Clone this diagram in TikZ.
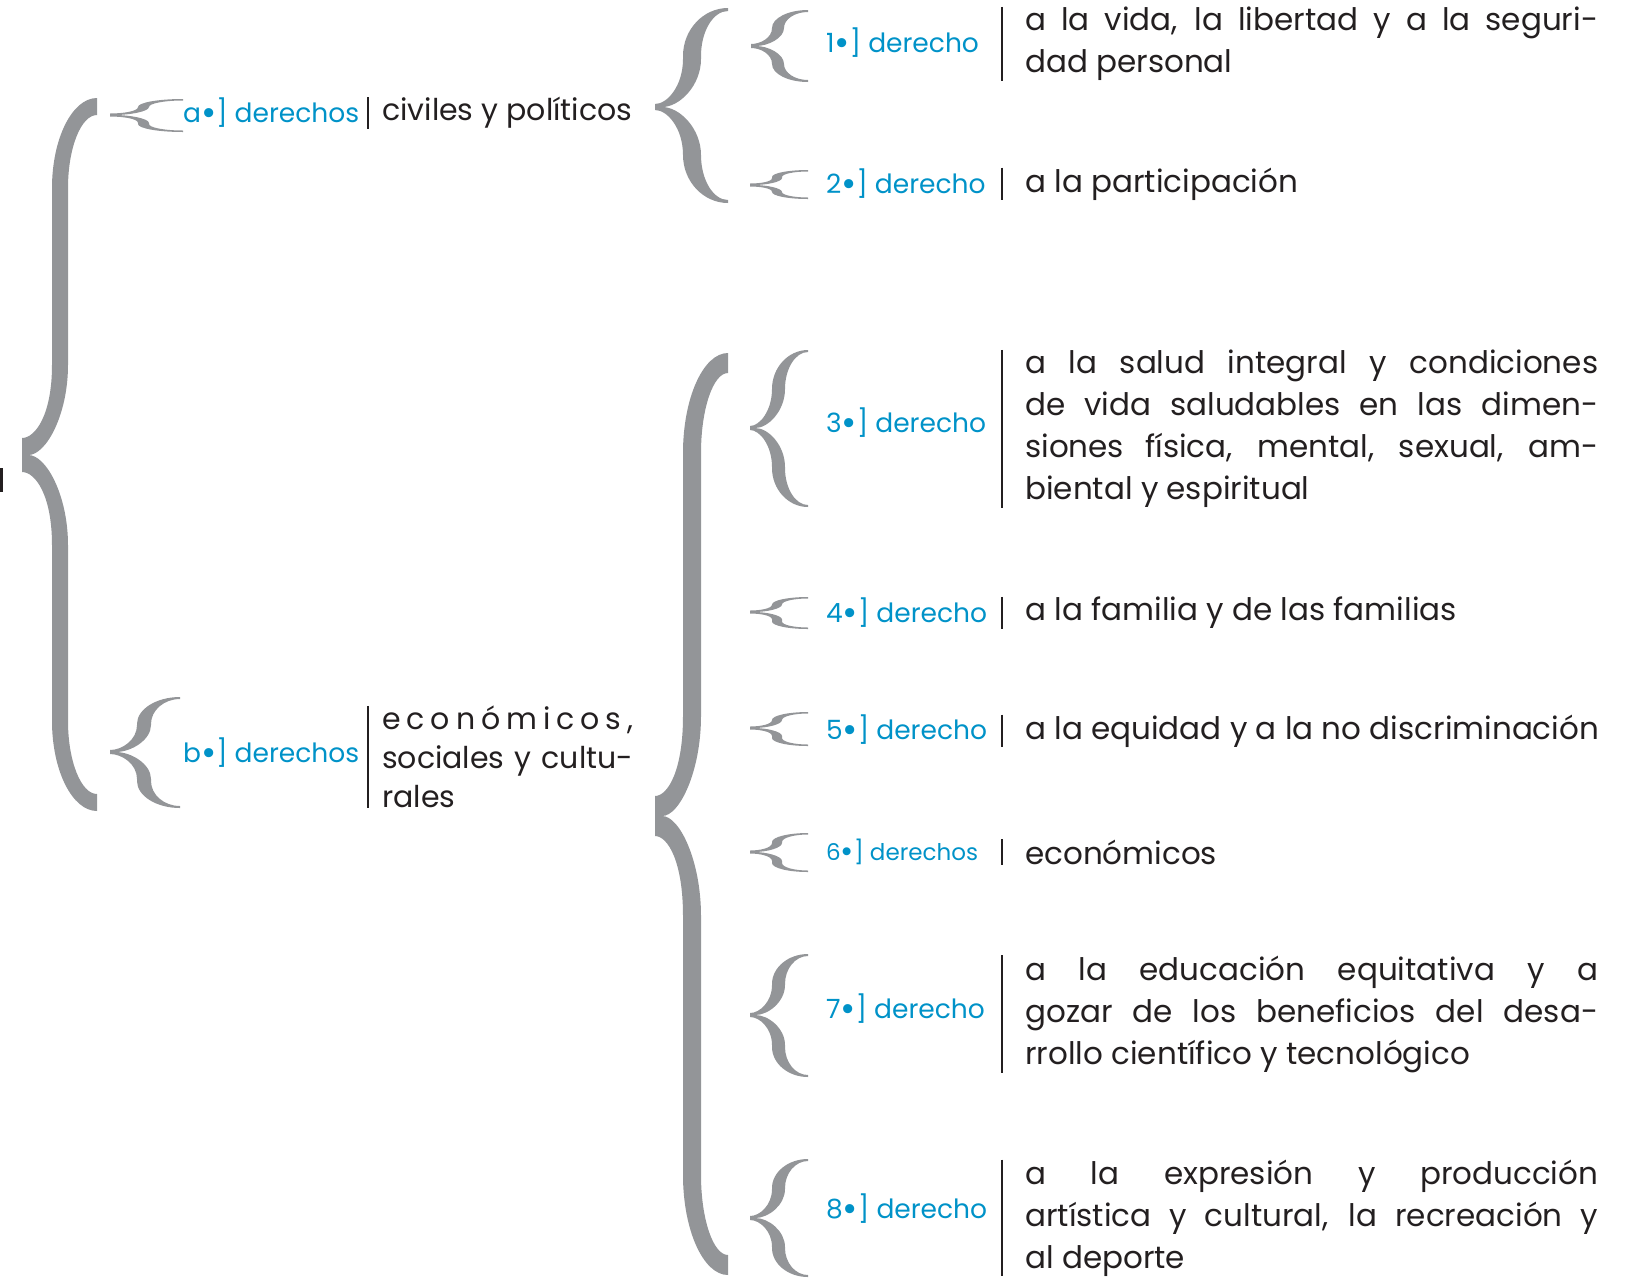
\documentclass[tikz,border=0pt]{standalone}
\usepackage{fontspec}
\setmainfont{Poppins}
\usepackage{xcolor}
\usepackage{tikz}

\definecolor{gris}{RGB}{147,149,152}
\definecolor{azul}{RGB}{0,146,200}
\definecolor{negro}{RGB}{35,31,32}

\newcommand{\pto}{\raisebox{-0.1em}{\scalebox{1.4}{\textbullet}}}

% llave: xr, x del tallo, x de la punta, y arriba, y punta, y abajo, grosor, radio, grosor del extremo
\newcommand{\llave}[9]{%
  \fill[gris] (#1,#4)
    .. controls ({#2+0.45*(#1-#2)},#4) and (#2,{#4+0.45*#8}) .. (#2,{#4+#8})
    -- (#2,{#5-#8})
    .. controls (#2,{#5-0.45*#8}) and ({#3+0.45*(#2-#3)},{#5-#9}) .. (#3,{#5-#9})
    -- (#3,{#5+#9})
    .. controls ({#3+0.45*(#2-#3)},{#5+#9}) and (#2,{#5+0.45*#8}) .. (#2,{#5+#8})
    -- (#2,{#6-#8})
    .. controls (#2,{#6-0.45*#8}) and ({#2+0.45*(#1-#2)},#6) .. (#1,#6)
    -- (#1,{#6-#9})
    .. controls ({#2+#7+0.45*(#1-#2-#7)},{#6-#9}) and ({#2+#7},{#6-#9-0.45*(#8-#9)}) .. ({#2+#7},{#6-#8})
    -- ({#2+#7},{#5+#8})
    .. controls ({#2+#7},{#5+0.45*#8}) and ({#3+0.4*#7+0.45*(#2+0.6*#7-#3)},#5) .. ({#3+0.4*#7},#5)
    .. controls ({#3+0.4*#7+0.45*(#2+0.6*#7-#3)},#5) and ({#2+#7},{#5-0.45*#8}) .. ({#2+#7},{#5-#8})
    -- ({#2+#7},{#4+#8})
    .. controls ({#2+#7},{#4+#9+0.45*(#8-#9)}) and ({#2+#7+0.45*(#1-#2-#7)},{#4+#9}) .. (#1,{#4+#9})
    -- cycle;}

\begin{document}
\begin{tikzpicture}[x=1pt,y=-1pt]
  \tikzstyle{etiqueta}=[anchor=west, inner sep=0pt, text=azul, font=\fontsize{26.5}{30}\selectfont]
  \tikzstyle{texto}=[anchor=west, inner xsep=23pt, inner ysep=0pt, text=negro, font=\fontsize{31}{42}\selectfont]
  \tikzstyle{parrafo}=[texto, text width=573pt, align=justify]
  \tikzstyle{izq}=[texto, inner xsep=14pt, font=\fontsize{30}{39}\selectfont]
  \tikzset{barra/.style = {draw=negro, line width=2.5pt}}

  \useasboundingbox (0,0) rectangle (1640,1278);

  % llaves grandes
  \llave{97}{52}{22}{98}{455}{811}{16}{90}{17}
  \llave{728}{683}{655}{8}{107}{203}{18}{48}{3}
  \llave{728}{683}{655}{353}{816}{1275}{18}{100}{20}
  \fill[negro] (0,468) rectangle (3,492);

  % a: civiles y politicos
  \llave{183}{138}{110}{99}{115}{132}{11}{8}{1.5}
  \node[etiqueta](la) at (183,113) {a\pto] derechos};
  \node[izq](ta) at (368,113) {civiles y políticos};

  % b: economicos, sociales y culturales
  \llave{180}{137}{110}{697}{752}{808}{14}{27}{2}
  \node[etiqueta](lb) at (183,753) {b\pto] derechos};
  \node[izq, text width=251pt, align=justify](tb) at (368,757)
    {\makebox[251pt][s]{e c o n ó m i c o s ,}\\ sociales y cultu-\linebreak rales};

  % derechos 1 y 2
  \llave{808}{772}{751}{10}{46}{82}{12}{18}{2}
  \node[etiqueta](l1) at (826,43) {1\pto] derecho};
  \node[parrafo](t1) at (1002,44) {a la vida, la libertad y a la seguri-\linebreak dad personal};

  \llave{808}{772}{750}{170}{185}{199}{10}{7}{1.5}
  \node[etiqueta](l2) at (826,184) {2\pto] derecho};
  \node[texto](t2) at (1002,184) {a la participación};

  % derechos 3 a 8
  \llave{808}{772}{750}{350}{428}{507}{13}{39}{2}
  \node[etiqueta](l3) at (826,423) {3\pto] derecho};
  \node[parrafo](t3) at (1002,429) {a la salud integral y condiciones\linebreak de vida saludables en las dimen-\linebreak siones física, mental, sexual, am-\linebreak biental y espiritual};

  \llave{808}{772}{750}{597}{612}{629}{10}{7.5}{1.5}
  \node[etiqueta](l4) at (826,613) {4\pto] derecho};
  \node[texto](t4) at (1002,613) {a la familia y de las familias};

  \llave{808}{772}{750}{712}{728}{746}{10}{8}{1.5}
  \node[etiqueta](l5) at (826,730) {5\pto] derecho};
  \node[texto](t5) at (1002,731) {a la equidad y a la no discriminación};

  \llave{808}{772}{750}{833}{852}{872}{10}{9}{1.5}
  \node[etiqueta, font=\fontsize{23}{26}\selectfont](l6) at (826,852) {6\pto] derechos};
  \node[texto](t6) at (1002,852) {económicos};

  \llave{808}{772}{750}{954}{1015}{1077}{13}{30}{2}
  \node[etiqueta](l7) at (826,1009) {7\pto] derecho};
  \node[parrafo](t7) at (1002,1014) {a la educación equitativa y a\linebreak gozar de los beneficios del desa-\linebreak rrollo científico y tecnológico};

  \llave{808}{772}{750}{1159}{1218}{1277}{13}{29}{2}
  \node[etiqueta](l8) at (826,1209) {8\pto] derecho};
  \node[parrafo](t8) at (1002,1218) {a la expresión y producción\linebreak artística y cultural, la recreación y\linebreak al deporte};

  % barras
  \foreach \t in {ta,tb,t1,t2,t3,t4,t5,t6,t7,t8}
    \draw[barra](\t.north west) -- (\t.south west);
\end{tikzpicture}
\end{document}
